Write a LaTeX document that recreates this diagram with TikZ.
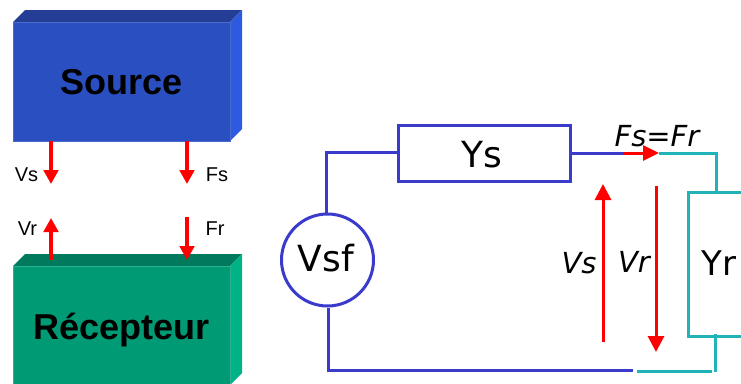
\documentclass[tikz,border=0pt]{standalone}
\usepackage{fontspec}
\setmainfont{Liberation Sans}
\newfontfamily\dejavu{DejaVu Sans}
\usetikzlibrary{arrows.meta}
\definecolor{srcfront}{HTML}{2A4FC0}
\definecolor{srctop}{HTML}{233E94}
\definecolor{srcside}{HTML}{2E5AE0}
\definecolor{srcedge}{HTML}{4A6AD0}
\definecolor{recfront}{HTML}{009B74}
\definecolor{rectop}{HTML}{007A5C}
\definecolor{recside}{HTML}{00B386}
\definecolor{recedge}{HTML}{30B090}
\definecolor{wireblue}{HTML}{3A3ACC}
\definecolor{wireteal}{HTML}{20B4B8}
\definecolor{arrowred}{HTML}{FF0000}
\tikzset{
  block/.style={draw=#1,line width=0.6pt,inner sep=0pt,outer sep=0pt,text height=26pt,text depth=0pt,
    font=\fontsize{36}{36}\selectfont\bfseries,text=black},
  sidelabel/.style={inner sep=0pt,anchor=base,font=\fontsize{20}{20}\selectfont,text=black},
  circuittext/.style={inner sep=0pt,anchor=base,font=\dejavu\fontsize{36}{36}\selectfont,text=black},
  voltlabel/.style={inner sep=0pt,anchor=base,font=\dejavu\itshape\fontsize{29}{29}\selectfont,text=black},
  smallarrow/.style={draw=arrowred,line width=3.4pt,-{Triangle[length=14pt,width=14.5pt]}},
  bigarrow/.style={draw=arrowred,line width=3pt,-{Triangle[length=16pt,width=16pt]}},
  bluewire/.style={draw=wireblue,line width=3pt},
  tealwire/.style={draw=wireteal,line width=3pt},
  bluebox/.style={bluewire,fill=white,inner sep=0pt,outer sep=0pt},
  tealbox/.style={tealwire,fill=white,inner sep=0pt,outer sep=0pt}
}
\begin{document}
\begin{tikzpicture}[x=1pt,y=-1pt]
\useasboundingbox (0,0) rectangle (741,383);
\fill[white] (0,0) rectangle (741,383);
% Source block
\fill[srctop] (13,22) -- (25,10) -- (242,10) -- (230,22) -- cycle;
\fill[srcside] (230,22) -- (242,10) -- (242,129) -- (230,141) -- cycle;
\node[block=srcedge,fill=srcfront,minimum width=217pt,minimum height=119pt] (source) at (121.5,81.5) {Source};
% Recepteur block
\fill[rectop] (13,266) -- (25,254) -- (242,254) -- (230,266) -- cycle;
\fill[recside] (230,266) -- (242,254) -- (242,373) -- (230,385) -- cycle;
\node[block=recedge,fill=recfront,minimum width=217pt,minimum height=119pt] (recepteur) at (121.5,326) {Récepteur};
% Block terminals
\coordinate (vsA) at (51,141);  \coordinate (vsB) at (51,184);
\coordinate (fsA) at (187,141); \coordinate (fsB) at (187,184);
\coordinate (vrA) at (51,260);  \coordinate (vrB) at (51,218);
\coordinate (frA) at (187,217); \coordinate (frB) at (187,260);
\draw[smallarrow] (vsA) -- (vsB);
\draw[smallarrow] (fsA) -- (fsB);
\draw[smallarrow] (vrA) -- (vrB);
\draw[smallarrow] (frA) -- (frB);
\node[sidelabel] (lvs) at (26.5,181.5) {Vs};
\node[sidelabel] (lfs) at (217,181.5) {Fs};
\node[sidelabel] (lvr) at (27.5,235.5) {Vr};
\node[sidelabel] (lfr) at (215,235.5) {Fr};
% Circuit
\node[bluebox,minimum width=172pt,minimum height=56pt] (ys) at (484,153) {};
\node[circuittext] (ystext) at (482,167) {Ys};
\node[bluebox,circle,minimum size=92pt] (vsf) at (327.5,260) {};
\node[circuittext] (vsftext) at (326,271.7) {Vsf};
\node[tealbox,anchor=north west,minimum width=100pt,minimum height=144pt] (yr) at (688,192) {};
\node[circuittext,font=\dejavu\fontsize{34}{34}\selectfont] (yrtext) at (719,275) {Yr};
\coordinate (n1) at (326.5,152);
\coordinate (n2) at (328,370.5);
\coordinate (n3) at (633,370.5);
\coordinate (n4) at (624,153);
\coordinate (n5) at (659,153);
\coordinate (n6) at (716,153);
\coordinate (n7) at (637,371);
\coordinate (n8) at (712,371);
\coordinate (n9) at (715,334);
\coordinate (n10) at (715,372);
\draw[bluewire] (ys.west |- n1) -- (n1) -- (vsf.north -| n1);
\draw[bluewire] (n2 |- vsf.south) ++(0,2) -- (n2) -- (n3);
\draw[bluewire] (ys.east |- n4) -- (n4);
\draw[tealwire] (n5) -- (n6) -- (n6 |- yr.north);
\draw[tealwire] (n9) -- (n10);
\draw[tealwire] (n8) -- (n7);
\draw[draw=arrowred,line width=3pt,-{Triangle[length=16pt,width=15pt]}] (n4) -- (n5);
\coordinate (vsbottom) at (603,342); \coordinate (vstop) at (603,184);
\coordinate (vrtop) at (656,186); \coordinate (vrbottom) at (656,352);
\draw[bigarrow] (vsbottom) -- (vstop);
\draw[bigarrow] (vrtop) -- (vrbottom);
\node[voltlabel] (lvsb) at (579,273) {Vs};
\node[voltlabel] (lvrb) at (634,272.7) {Vr};
\node[voltlabel] (lfsr) at (657,146) {Fs=Fr};
\end{tikzpicture}
\end{document}
